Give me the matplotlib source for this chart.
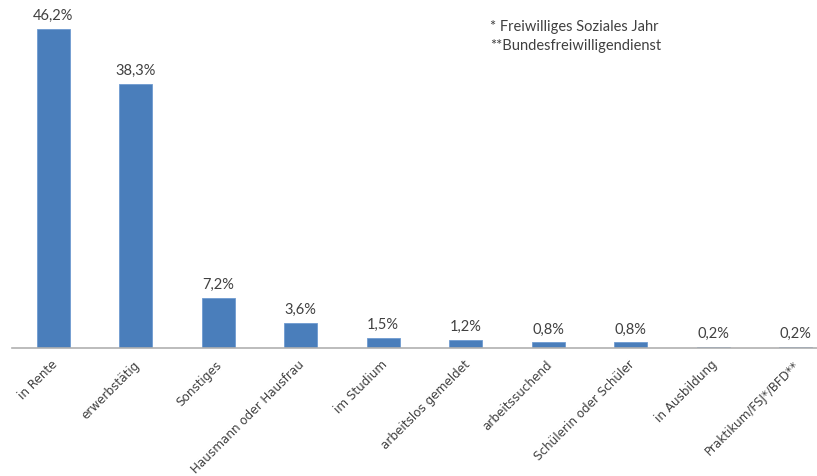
import matplotlib.pyplot as plt
import matplotlib.transforms as mtransforms
from matplotlib import font_manager
import numpy as np

categories = ['in Rente', 'erwerbstätig', 'Sonstiges', 'Hausmann oder Hausfrau',
              'im Studium', 'arbeitslos gemeldet', 'arbeitssuchend',
              'Schülerin oder Schüler', 'in Ausbildung', 'Praktikum/FSJ*/BFD**']
values = [46.2, 38.3, 7.2, 3.6, 1.5, 1.2, 0.8, 0.8, 0.2, 0.2]
footnotes = ['* Freiwilliges Soziales Jahr', '**Bundesfreiwilligendienst']

plt.rcParams['font.family'] = ['Lato', 'DejaVu Sans']
text_color = '#404040'

# narrow face for the long category labels, if one is installed
narrow = font_manager.FontProperties(family='DejaVu Sans', stretch='condensed', size=9.5)
narrow_path = font_manager.findfont(narrow, fallback_to_default=False)
if 'ondensed' not in narrow_path:
    narrow = font_manager.FontProperties(family='Liberation Sans Narrow', size=9.5)
    narrow_path = font_manager.findfont(narrow)
    if 'arrow' not in narrow_path:
        narrow = font_manager.FontProperties(family='Lato', size=8.5)

fig = plt.figure(figsize=(8.17, 4.77), dpi=100)
ax = fig.add_axes([12 / 817, 128 / 477, 805 / 817, 349 / 477])

x = np.arange(len(categories))
ax.bar(x, values, width=0.4, color='#4a7ebb', edgecolor='#6f9bd1', linewidth=0.6)

for xi, v in zip(x, values):
    ax.annotate(f'{v:.1f}%'.replace('.', ','), (xi, v), xytext=(0, 5),
                textcoords='offset points', ha='center', va='bottom',
                fontsize=10.5, color=text_color)

# category labels, rotated so that each one ends just below its bar
label_offset = mtransforms.ScaledTranslation(2 / 100, -14 / 100, fig.dpi_scale_trans)
for xi, name in zip(x, categories):
    ax.text(xi, 0, name, transform=ax.get_xaxis_transform() + label_offset,
            rotation=45, ha='right', va='center', rotation_mode='anchor',
            fontproperties=narrow, color=text_color)

ax.set_xlim(-0.5, -0.5 + 805 / 82.5)
ax.set_ylim(0, 349 / 6.9)
ax.set_xticks([])
ax.set_yticks([])
for side in ['top', 'right', 'left']:
    ax.spines[side].set_visible(False)
ax.spines['bottom'].set_color('#b0b0b0')
ax.spines['bottom'].set_linewidth(1.2)

fig.text(490 / 817, 1 - 27 / 477, footnotes[0], fontsize=10.5, color=text_color, va='center')
fig.text(490 / 817, 1 - 46 / 477, footnotes[1], fontsize=10.5, color=text_color, va='center')

fig.savefig('out.png', dpi=100)
